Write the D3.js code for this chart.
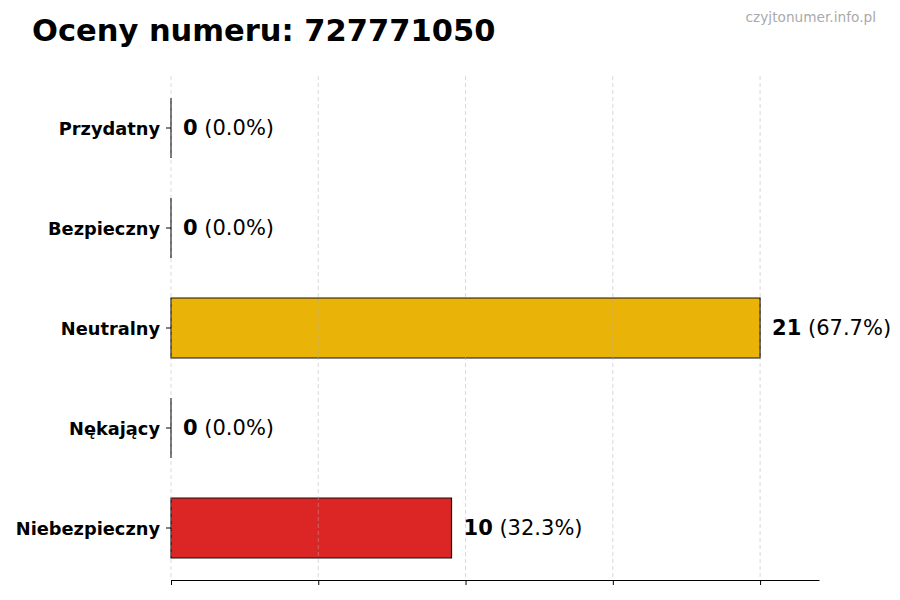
<!DOCTYPE html>
<html>
<head>
<meta charset="utf-8">
<script src="https://cdn.jsdelivr.net/npm/d3@7"></script>
<style>
  body { margin: 0; background: #fff; }
  text { font-family: "DejaVu Sans", sans-serif; }
</style>
</head>
<body>
<div id="chart"></div>
<script>
/////// DATA

const categories = ["Przydatny", "Bezpieczny", "Neutralny", "Nękający", "Niebezpieczny"];
const counts = [0, 0, 21, 0, 10];
const percents = ["0.0%", "0.0%", "67.7%", "0.0%", "32.3%"];
const barColors = ["#16a34a", "#22c55e", "#eab308", "#f97316", "#dc2626"];
const gridTicks = [0, 5.25, 10.5, 15.75, 21];

const width = 900;
const height = 600;
const margin = { top: 76, right: 81, bottom: 20, left: 171 };

const svg = d3.select("#chart")
  .append("svg")
  .attr("width", width)
  .attr("height", height);

// title + watermark
svg.append("text")
  .attr("x", 32)
  .attr("y", 41)
  .attr("font-size", 30.5)
  .attr("font-weight", "bold")
  .attr("fill", "#000")
  .text("Oceny numeru: 727771050");

svg.append("text")
  .attr("x", 876)
  .attr("y", 22)
  .attr("text-anchor", "end")
  .attr("font-size", 13.7)
  .attr("fill", "#aaa")
  .text("czyjtonumer.info.pl");

// scales
const x = d3.scaleLinear()
  .domain([0, 23.1])
  .range([margin.left, width - margin.right]);

const y = d3.scaleBand()
  .domain(categories)
  .range([margin.top, height - margin.bottom])
  .paddingInner(0.4)
  .paddingOuter(0.22);

// bars as closed paths so zero-width bars still show their edge
svg.append("g")
  .selectAll("path")
  .data(categories)
  .join("path")
  .attr("d", (d, i) => {
    const p = d3.path();
    const x0 = x(0), x1 = x(counts[i]);
    const y0 = y(d), y1 = y(d) + y.bandwidth();
    p.moveTo(x0, y0);
    p.lineTo(x1, y0);
    p.lineTo(x1, y1);
    p.lineTo(x0, y1);
    p.closePath();
    return p.toString();
  })
  .attr("fill", (d, i) => barColors[i])
  .attr("stroke", "#111")
  .attr("stroke-width", 1.2);

// vertical dashed grid (drawn over the bars, faint)
svg.append("g")
  .selectAll("line")
  .data(gridTicks)
  .join("line")
  .attr("x1", d => x(d))
  .attr("x2", d => x(d))
  .attr("y1", margin.top)
  .attr("y2", height - margin.bottom)
  .attr("stroke", "#b0b0b0")
  .attr("stroke-opacity", 0.6)
  .attr("stroke-dasharray", "4,3")
  .attr("stroke-width", 0.8);

// bottom axis, no labels
const xAxis = svg.append("g")
  .attr("transform", `translate(0,${height - margin.bottom})`)
  .call(d3.axisBottom(x).tickValues(gridTicks).tickSize(5).tickSizeOuter(0).tickFormat(""));
xAxis.select(".domain").attr("stroke", "#000").attr("stroke-width", 1.2);
xAxis.selectAll(".tick line").attr("stroke", "#000");

// left axis: only tick marks and labels
const yAxis = svg.append("g")
  .attr("transform", `translate(${margin.left},0)`)
  .call(d3.axisLeft(y).tickSize(5).tickPadding(6));
yAxis.select(".domain").remove();
yAxis.selectAll(".tick line").attr("stroke", "#000");
yAxis.selectAll(".tick text")
  .attr("font-family", "DejaVu Sans, sans-serif")
  .attr("font-size", 17.8)
  .attr("font-weight", "bold")
  .attr("dy", "0.42em")
  .attr("fill", "#000");

// value labels
const labels = svg.append("g")
  .selectAll("text")
  .data(categories)
  .join("text")
  .attr("x", (d, i) => x(counts[i]) + 12)
  .attr("y", d => y(d) + y.bandwidth() / 2)
  .attr("dy", "0.35em")
  .attr("font-size", 21)
  .attr("fill", "#000");

labels.append("tspan")
  .attr("font-weight", "bold")
  .text((d, i) => counts[i]);

labels.append("tspan")
  .text((d, i) => " (" + percents[i] + ")");
</script>
</body>
</html>
